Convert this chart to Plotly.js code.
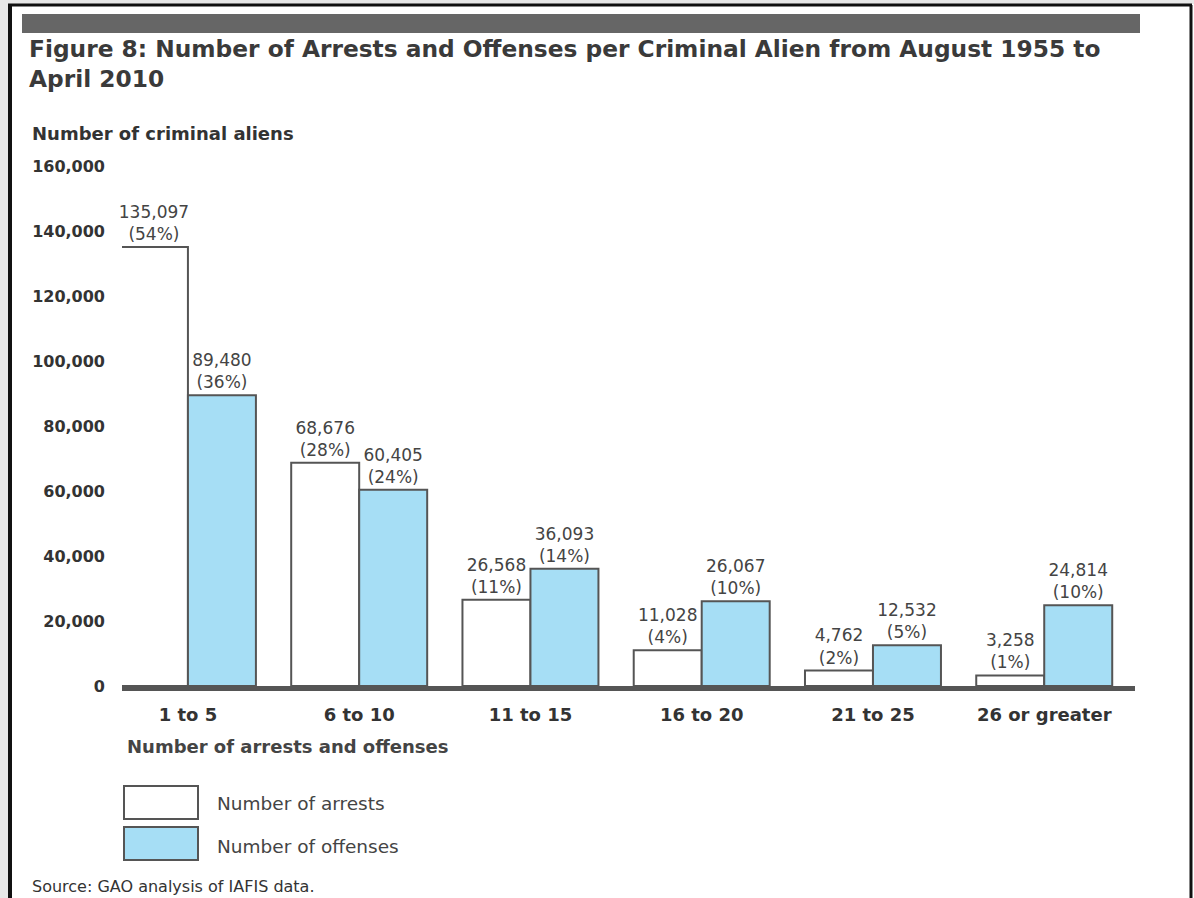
<!DOCTYPE html>
<html>
<head>
<meta charset="utf-8">
<script src="https://cdn.plot.ly/plotly-3.0.1.min.js"></script>
<style>
html,body{margin:0;padding:0;background:#fff;}
#chart{width:1194px;height:898px;}
</style>
</head>
<body>
<div id="chart"></div>
<script>
const categories = ['1 to 5', '6 to 10', '11 to 15', '16 to 20', '21 to 25', '26 or greater'];
const arrests = [135097, 68676, 26568, 11028, 4762, 3258];
const arrestsPct = [54, 28, 11, 4, 2, 1];
const offenses = [89480, 60405, 36093, 26067, 12532, 24814];
const offensesPct = [36, 24, 14, 10, 5, 10];
const seriesNames = ['Number of arrests', 'Number of offenses'];
const yTicks = [0, 20000, 40000, 60000, 80000, 100000, 120000, 140000, 160000];

const W = 1194, H = 898;
const px = v => v / W;
const py = v => 1 - v / H;

const outline = '#555';
const blue = '#a6def5';
const labelFont = {family: 'DejaVu Sans', size: 17, color: '#444'};

const traces = [
  {
    type: 'bar', name: seriesNames[0], x: categories, y: arrests, customdata: arrestsPct,
    marker: {color: '#ffffff', line: {color: outline, width: 2}},
    texttemplate: '%{y:,}<br>(%{customdata}%)', textposition: 'outside',
    textfont: labelFont, cliponaxis: false, constraintext: 'none', hoverinfo: 'skip'
  },
  {
    type: 'bar', name: seriesNames[1], x: categories, y: offenses, customdata: offensesPct,
    marker: {color: blue, line: {color: outline, width: 2}},
    texttemplate: '%{y:,}<br>(%{customdata}%)', textposition: 'outside',
    textfont: labelFont, cliponaxis: false, constraintext: 'none', hoverinfo: 'skip'
  }
];

const shapes = [
  // light margin outside frame
  {type: 'rect', xref: 'paper', yref: 'paper', x0: 0, x1: px(8), y0: 0, y1: 1,
   fillcolor: '#e8e8e8', line: {width: 0}, layer: 'below'},
  {type: 'rect', xref: 'paper', yref: 'paper', x0: 0, x1: 1, y0: py(4), y1: 1,
   fillcolor: '#e8e8e8', line: {width: 0}, layer: 'below'},
  // top dark band
  {type: 'rect', xref: 'paper', yref: 'paper', x0: px(22), x1: px(1140), y0: py(14), y1: py(33),
   fillcolor: '#666', line: {width: 0}, layer: 'below'},
  // frame
  {type: 'line', xref: 'paper', yref: 'paper', x0: px(8), x1: px(1192), y0: py(5), y1: py(5), line: {color: '#111', width: 3}},
  {type: 'line', xref: 'paper', yref: 'paper', x0: px(10), x1: px(10), y0: py(5), y1: py(898), line: {color: '#111', width: 4}},
  {type: 'line', xref: 'paper', yref: 'paper', x0: px(1191), x1: px(1191), y0: py(5), y1: py(898), line: {color: '#111', width: 3}},
  // legend boxes
  {type: 'rect', xref: 'paper', yref: 'paper', x0: px(124), x1: px(198), y0: py(786), y1: py(819),
   fillcolor: '#fff', line: {color: outline, width: 2}},
  {type: 'rect', xref: 'paper', yref: 'paper', x0: px(124), x1: px(198), y0: py(827), y1: py(860),
   fillcolor: blue, line: {color: outline, width: 2}}
];

const annotations = [
  {xref: 'paper', yref: 'paper', x: px(30), y: py(133), xanchor: 'left', yanchor: 'middle', showarrow: false,
   text: 'Number of criminal aliens', font: {family: 'DejaVu Sans', size: 18, color: '#333', weight: 'bold'}},
  {xref: 'paper', yref: 'paper', x: px(125), y: py(746), xanchor: 'left', yanchor: 'middle', showarrow: false,
   text: 'Number of arrests and offenses', font: {family: 'DejaVu Sans', size: 18, color: '#444', weight: 'bold'}},
  {xref: 'paper', yref: 'paper', x: px(215), y: py(803), xanchor: 'left', yanchor: 'middle', showarrow: false,
   text: seriesNames[0], font: {family: 'DejaVu Sans', size: 18.5, color: '#444'}},
  {xref: 'paper', yref: 'paper', x: px(215), y: py(846), xanchor: 'left', yanchor: 'middle', showarrow: false,
   text: seriesNames[1], font: {family: 'DejaVu Sans', size: 18.5, color: '#444'}},
  {xref: 'paper', yref: 'paper', x: px(30), y: py(886), xanchor: 'left', yanchor: 'middle', showarrow: false,
   text: 'Source: GAO analysis of IAFIS data.', font: {family: 'DejaVu Sans', size: 16, color: '#333'}}
];

const layout = {
  width: W, height: H,
  margin: {l: 0, r: 0, t: 0, b: 0},
  paper_bgcolor: '#fff', plot_bgcolor: '#fff',
  showlegend: false,
  barmode: 'group', bargap: 0.206, bargroupgap: 0,
  title: {
    text: 'Figure 8: Number of Arrests and Offenses per Criminal Alien from August 1955 to<br>April 2010',
    xref: 'container', yref: 'container', x: px(29), xanchor: 'left', y: py(57), yanchor: 'top',
    font: {family: 'DejaVu Sans', size: 23.3, color: '#3a3a3a', weight: 'bold'}
  },
  xaxis: {
    domain: [px(122), px(1135)],
    range: [-0.385, 5.53],
    showgrid: false, zeroline: false,
    showline: true, linecolor: '#555', linewidth: 5,
    ticks: '', ticklabelstandoff: 8,
    tickfont: {family: 'DejaVu Sans', size: 18, color: '#333', weight: 'bold'},
    fixedrange: true
  },
  yaxis: {
    domain: [py(686), py(166)],
    range: [0, 160000],
    tickvals: yTicks, tickformat: ',d',
    showgrid: false, zeroline: false, showline: false,
    ticks: '', ticklabelstandoff: 16,
    tickfont: {family: 'DejaVu Sans', size: 16, color: '#333', weight: 'bold'},
    fixedrange: true
  },
  shapes: shapes,
  annotations: annotations
};

Plotly.newPlot('chart', traces, layout, {displayModeBar: false, staticPlot: true});
</script>
</body>
</html>
